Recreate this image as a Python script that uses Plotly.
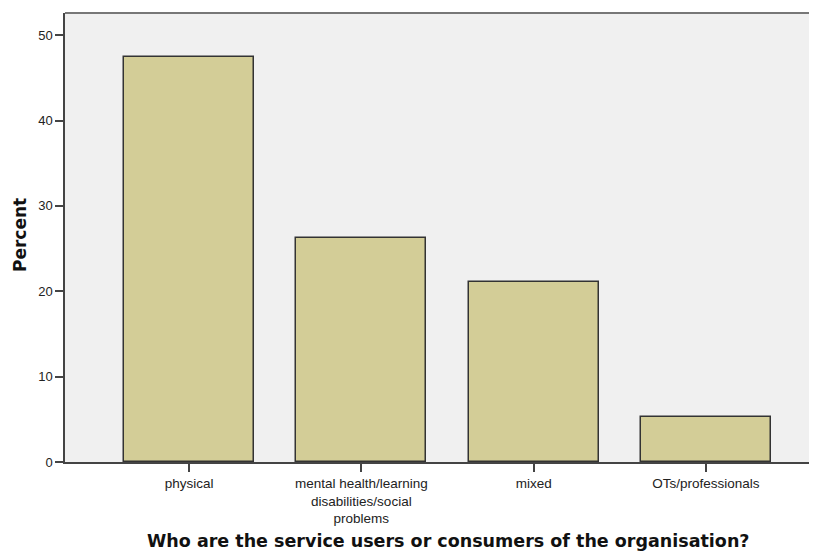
import plotly.graph_objects as go

categories = ['physical', 'mental health/learning<br>disabilities/social<br>problems',
              'mixed', 'OTs/professionals']
percent = [47.4, 26.3, 21.1, 5.3]

x_title = 'Who are the service users or consumers of the organisation?'
y_title = 'Percent'

# the page body adds an 8px margin, so the figure is shifted by that much
W, H = 809, 555
L, T, B = 57, 5, 101
PW, PH = W - L, H - T - B

fig = go.Figure()
fig.add_trace(go.Bar(
    x=categories, y=percent, width=0.755,
    marker=dict(color='#D3CD97', line=dict(color='#333333', width=1.5)),
))

fig.update_layout(
    width=W, height=H,
    margin=dict(l=L, r=0, t=T, b=B),
    paper_bgcolor='white', plot_bgcolor='#F0F0F0',
    font=dict(family='Arial', size=13, color='#222222'),
    showlegend=False,
    bargap=0,
)
fig.update_xaxes(
    range=[-0.72, -0.72 + PW / 172.3], showgrid=False, zeroline=False, automargin=False,
    showline=True, linecolor='#444444', linewidth=1.5,
    ticks='outside', ticklen=8, tickcolor='#444444', tickwidth=1.5,
    tickfont=dict(size=13.5),
)
fig.update_yaxes(
    range=[0, 52.6], dtick=10, showgrid=False, zeroline=False, automargin=False,
    showline=True, linecolor='#444444', linewidth=1.5,
    ticks='outside', ticklen=8, tickcolor='#444444', tickwidth=1.5,
    tickfont=dict(size=13),
)
# axis titles placed as annotations
fig.add_annotation(text='<b>' + x_title + '</b>', xref='paper', yref='paper',
                   x=(440 - L) / PW, y=-(533 - (H - B)) / PH, showarrow=False,
                   xanchor='center', yanchor='middle',
                   font=dict(family='DejaVu Sans', size=17.5, color='#111111'))
fig.add_annotation(text='<b>' + y_title + '</b>', xref='paper', yref='paper',
                   x=-(L - 12) / PW, y=(454 - 227) / PH, showarrow=False, textangle=-90,
                   xanchor='center', yanchor='middle',
                   font=dict(family='DejaVu Sans', size=17, color='#111111'))
# top border of the plot frame
fig.add_shape(type='line', xref='paper', yref='paper', x0=0, x1=1, y0=1, y1=1,
              line=dict(color='#777777', width=2))

fig.write_html("out.html")
